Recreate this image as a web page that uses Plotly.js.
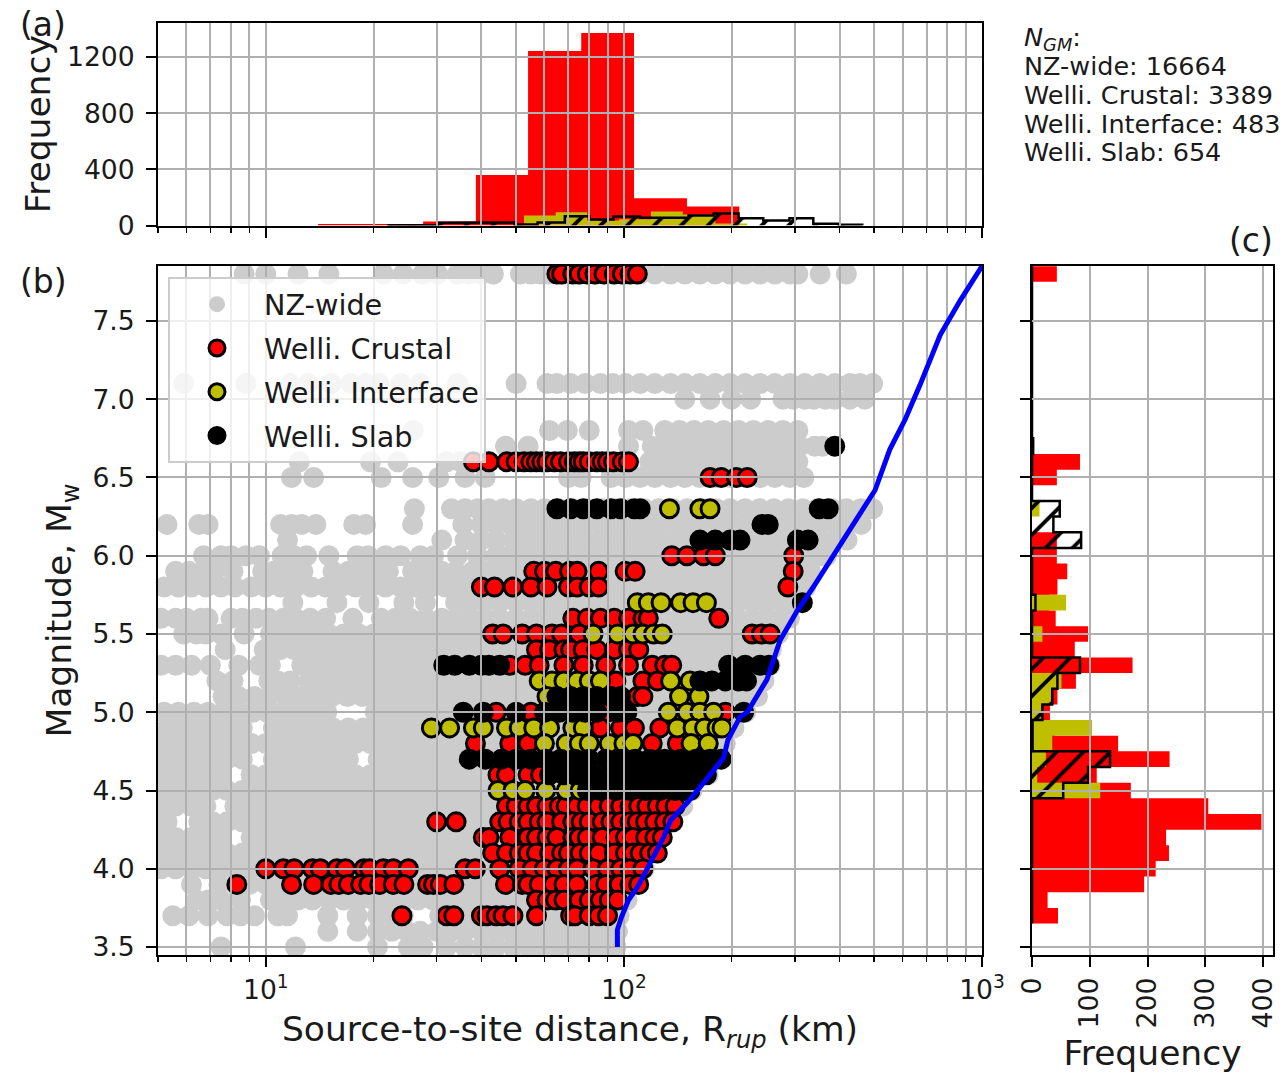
<!DOCTYPE html>
<html><head><meta charset="utf-8">
<script src="https://cdn.plot.ly/plotly-3.0.1.min.js"></script>
<style>html,body{margin:0;padding:0;background:#fff}</style></head>
<body><div id="chart" style="width:1284px;height:1073px"></div>
<script>
// ---- scatter data: magnitude rows and the distances (km) read along each row
const nzMags = [7.8,7.1,7.0,6.8,6.7,6.6,6.5,6.3,6.2,6.1,6.0,5.9,5.8,5.7,5.6,5.5,5.4,5.3,5.2,5.1,5.0,4.9,4.8,4.7,4.6,4.5,4.4,4.3,4.2,4.1,4.0,3.9,3.8,3.7,3.6,3.5];
const nzDist = [
 [8.7,10,12.3,15,21.3,24.2,27.4,30.2,34.3,37,40,43.2,51.4,55,58.5,62,68,75,83,92,101,111,122,135,148,163,180,198,218,240,264,291,306,353,418],
 [5.9,8.8,11.7,13.1,15.2,17.3,19,20.7,23.8,27,34.3,50,61,65,71,78,86,93,101,111,122,135,148,163,180,198,218,240,264,291,320,353,388,428,456,495],
 [148,174,200,226,278,297,320,339,365,388,428,471],
 [25.8,62,69.5,80,103,113,130,143,157,172,190,209,230,253,278,306],
 [46.7,54,103,120,132,145,160,176,193,212,233,256,282,310,341,359],
 [12.4,19.6,23.4,32,35,38,42,118,130,143,157,173,190,209,230,253,278,306],
 [11.8,13.6,21,25.7,30.4,36,41,70,76,92,101,111,122,135,148,163,180,198,218,240,264,291,318],
 [26,33,36,39,42,46,50,55,60,66,72,79,87,95,104,114,125,137,150,165,181,198,218,239,262,288,316,347,381,418,459,495],
 [5.3,6.5,6.9,11,11.8,12.6,13.8,17.6,19,25.7,35.5,40,44,48,53,58,64,70,77,85,93,103,113,124,136,150,165,181,199,219,241,265,291,320,352,387,425,460],
 [11.5,31,36,40,44,49,54,59,65,71,78,86,95,104,114,125,138,151,166,183,201,221,243,267,293,322,354,389,420],
 [6.7,7.5,8,8.8,9.6,11.1,12,13,15,18,19.3,21.6,23.8,27,29.4,34.3,39,44,48,53,58,64,70,77,85,93,103,113,124,136,150,165,181,199,219,241,265,291,320,352,368],
 [5.6,6.1,6.7,7.2,8.1,9.8,10.5,11.6,12.7,15.4,17,18.6,20.5,22,25.7,28.4,31,33.9,37.8,42,46,51,56,62,68,75,82,90,99,109,120,132,145,160,176,193,212,233,256,282,310,332],
 [5.2,5.7,6.2,6.8,7.5,8.2,9.1,10,11,12.1,13.4,14.7,16.2,17.8,19.6,21.6,23.8,26.2,28.8,31.7,34.9,38.5,42.4,46.7,51.4,56.6,62.3,68.6,75.5,83.2,91.6,100.8,111,122,135,148,163,180,198,218,240,264,291,322],
 [11.9,15.8,19.4,24.3,27.9,33.9,37,41,45,50,55,61,67,73,80,88,97,107,117,129,142,156,171,188,207,228,250,275,298],
 [5.1,5.6,6,6.6,6.9,8,8.6,9.4,10.2,11.2,12.1,13.3,14.7,17.5,21,23,25.3,28,31,34,37.5,41,45,50,55,60,66,73,80,88,97,106,117,129,142,156,172,189,208,229,252,277,290],
 [5.9,6.4,6.8,7.5,8.7,10.3,11.3,12.4,13.7,15,16.5,18.2,20,22,24.2,26.6,29,32,35.5,39,43,47,52,57,63,69,76,84,92,101,111,122,135,148,163,180,198,218,240,262,270],
 [7.7,9.9,11,12,13.2,14.6,16,17.6,19.4,21.4,23.6,26,28.6,31.4,34.6,38,42,46,51,56,62,68,75,83,91,100,110,121,133,147,161,177,195,215,236,258],
 [5.1,5.6,6.2,7,8.4,9.6,10.3,12.6,13.9,15.3,16.8,18.5,20.4,22.4,24.7,27.2,30,33,36,40,44,48,53,58,64,71,78,86,94,104,114,126,138,152,167,184,203,223,245,256],
 [7.3,8.1,10.2,10.8,11.7,13.2,14.5,16,17.6,19.4,21.5,24,26.5,29,32,35,39,43,47,52,57,63,69,76,84,92,101,111,122,135,148,163,180,198,218,240,246],
 [7.6,8.4,9.3,10.2,11.4,12.6,13.9,15.3,16.9,18.6,20.5,22.6,24.9,27.4,30.2,33.3,36.7,40.4,44.5,49,53.9,59.4,65.4,72,79.2,87.3,96,105.8,116,128,141,155,171,188,207,228,236],
 [5.2,5.7,6.3,6.9,7.6,8.4,9.2,10.1,11.1,12.2,13.5,14.8,20.2,22,24.5,27,29.5,32.5,36,39.5,43.5,48,53,58,64,70,77,85,94,103,113,125,137,151,166,183,201,219],
 [5.3,5.9,6.5,7.1,7.8,8.6,10.5,11.5,12.7,14,15.4,17,18.7,20.6,22.7,25,27.5,30.2,33.3,36.7,40.4,44.5,49,53.9,59.4,65.4,72,79.2,87.3,96,105.8,116,128,141,155,171,188,203],
 [5.1,5.6,6.2,6.8,7.5,8.2,9.1,10,11,12.1,13.4,14.7,16.2,17.8,19.6,21.6,23.8,26.2,28.8,31.7,34.9,38.5,42.4,46.7,51.4,56.6,62.3,68.6,75.5,83.2,91.6,100.8,111,122,135,148,163,180,192],
 [5.3,5.9,6.5,7.1,7.8,8.6,10.5,11.5,12.7,14,15.4,17,20.6,22.7,25,27.5,30.2,33.3,36.7,40.4,44.5,49,53.9,59.4,65.4,72,79.2,87.3,96,105.8,116,128,141,155,171,186],
 [5.1,5.6,6.2,6.8,7.5,9.1,10,11,12.1,13.4,14.7,16.2,17.8,19.6,21.6,23.8,26.2,28.8,31.7,34.9,38.5,42.4,46.7,51.4,56.6,62.3,68.6,75.5,83.2,91.6,100.8,111,122,135,148,163,172],
 [5.3,5.9,6.5,7.1,7.8,8.6,9.5,10.5,11.5,12.7,14,15.4,17,18.7,20.6,22.7,25,27.5,30.2,33.3,36.7,40.4,44.5,49,53.9,59.4,65.4,72,79.2,87.3,96,105.8,116,128,141,155],
 [5.1,5.6,6.2,6.8,8.2,9.1,10,11,12.1,13.4,14.7,16.2,17.8,19.6,21.6,23.8,26.2,28.8,31.7,34.9,38.5,42.4,46.7,51.4,56.6,62.3,68.6,75.5,83.2,91.6,100.8,111,122,135,146],
 [5.3,6.5,7.1,7.8,8.6,9.5,10.5,11.5,12.7,14,15.4,17,18.7,20.6,22.7,25,27.5,30.2,33.3,36.7,40.4,44.5,49,53.9,59.4,65.4,72,79.2,87.3,96,105.8,116,128,133],
 [5.1,5.6,6.2,6.8,7.5,9.1,10,11,12.1,13.4,14.7,16.2,17.8,19.6,21.6,23.8,26.2,28.8,31.7,34.9,38.5,42.4,46.7,51.4,56.6,62.3,68.6,75.5,83.2,91.6,100.8,111,122,127],
 [5.3,5.9,6.5,7.1,7.8,8.6,9.5,10.5,11.5,12.7,14,15.4,17,18.7,20.6,22.7,25,27.5,30.2,33.3,36.7,40.4,44.5,49,53.9,59.4,65.4,72,79.2,87.3,96,105.8,116,120],
 [5.1,5.6,6.2,6.8,7.5,8.2,9.1,10,11,12.1,13.4,14.7,16.2,17.8,19.6,21.6,23.8,26.2,28.8,31.7,34.9,38.5,42.4,46.7,51.4,56.6,62.3,68.6,75.5,83.2,91.6,100.8,111,114],
 [6.2,7.4,8.2,9,10,11,12,13.2,14.6,16,17.7,19.5,21.4,23.6,26,28.6,31.4,34.6,38,42,46,51,56,62,68,75,83,91,100,108],
 [6.4,6.9,7.5,8.5,10.3,11.3,12.3,13.5,15,16.5,18.2,20,22,24.2,26.6,29.3,32.3,35.5,39,43,47.5,52,57.5,63,69.5,76.5,84,92.5,102],
 [5.5,6.1,6.9,7.8,8.5,9.3,10.8,11.5,14.9,18,20.5,22.6,24.2,30.6,33.9,37,41,45,50,55,60,66,73,80,88,97],
 [14.9,18,20.5,22.5,24.8,27,30,33,36,40,44,48,53,58,64,70,77,85,93,96],
 [7.5,12.1,20.5,25,27.5,32,36,40,44,49,54,59,65,72,79,87,95]
];
const crustalMags = [7.8,6.6,6.5,6.0,5.9,5.8,5.6,5.5,5.4,5.3,5.2,5.1,5.0,4.9,4.8,4.6,4.4,4.3,4.2,4.1,4.0,3.9,3.8,3.7];
const crustalDist = [
 [65,67,72,75,79,83,88,94,99,104,109],
 [38,42,47.1,50,52.6,55,57,59,61,64,66.5,70,72.7,75,77,80,84,87,90,93.5,99,103],
 [174,187,206,221],
 [136,150,167,180,298],
 [56,60,64.5,70.5,74,85,100.8,107.5,297],
 [40,43.5,49,55,61,70,74,80,85,287],
 [72,79,86,94,103,113,117,184],
 [43,46,52,57,63,67,75,228,242,256],
 [57,62,68,71,77,84,94,103,110],
 [48,53,58,68,77,89,103,120,130,136],
 [95,113,124],
 [109,113],
 [44,55,90,192],
 [86,98,107,126],
 [38.5,48,54,120,141],
 [44.5,47,54,58.5],
 [47,50,54,57,61,66,69,74,79,85,91,98,104,110,116,124,131,139],
 [30,34,45,47.5,51,54,58,61,67,72,76,80,87,92,98,104,109,115,122,130,137],
 [40.5,42,48,54,57,61,65,72,75,79,87,95,101,106,115,122,128],
 [43,47,51,54,57,62,67,70,75.5,80,85,94,101,106,111,118,124],
 [10,11.2,12,13.5,14.2,15.8,16.7,18.8,19.5,21.3,22.7,25,36,38.5,45,51,55.5,60,65,70,74,82,90,98,104,113],
 [8.3,11.8,13.6,15.2,16,17,18.4,19.4,20.8,22.7,24.3,28.3,29.4,30.7,33.5,46.7,52,54,58,63.5,68,74,84,89,97,104,110],
 [57,61,64.5,68,75,80,86,91,96],
 [24,32,33.5,40,41.5,44,46,49,57,71,73,80,85,90]
];
const interfaceMags = [6.3,5.7,5.5,5.2,5.1,5.0,4.9,4.8,4.5];
const interfaceDist = [
 [134,163,174],
 [109,117,127,144,156,170],
 [82,96,106,113,121,128],
 [58,63,68,74,80,86,135,153],
 [61,143,162],
 [133,150,163,178],
 [29,32.6,38,40.5,47,51,56,62,72,77,141,156,168,182,188],
 [60,69,75,80,91,100,106,154,172],
 [44.5,49,53,60.5,69,75.5,148]
];
const slabMags = [6.7,6.3,6.2,6.1,5.7,5.3,5.2,5.1,5.0,4.7,4.6,4.5];
const slabDist = [
 [388],
 [65,71,77,84,92,98,107,111,351,372],
 [243,253],
 [163,180,198,211,305,327],
 [315],
 [31.4,33.7,37,40,42,45,196,218,240,254],
 [163,176,192,209,220],
 [65,71,77,84,92,98],
 [35.6,40.5,50,60,66,72,78,84,96,102,216],
 [37,41,45.5,50,55,60.5,66.5,73,80,89,98,107.5,118,130,144,159,174,187],
 [62,68,75,82,91,100,110,121,133,147,161,170],
 [79,86,95,104,115,126,139,153]
];
// ---- distance limit curve
const limitMag = [3.5,3.61,3.69,3.8,3.88,4.01,4.1,4.2,4.31,4.42,4.52,4.65,4.71,4.82,4.97,5.0,5.21,5.46,5.65,5.8,6.04,6.27,6.42,6.68,6.87,7.09,7.41,7.63,7.85];
const limitDist = [95.9,95.9,98.4,103,109,117,122.4,129,135,150,163,182,190,195,211,221,251,273,305,338,394,454,503,553,610,671,764,869,1000];
// ---- panel (a) histograms of distance
const crustalDistEdges = [14,19.6,27.5,38.6,54,76,106.7,150,210];
const crustalDistCount = [10,10,28,360,1243,1371,195,135];
const interfaceDistEdges = [49,52.6,64.5,79,97,119,146,180,221];
const interfaceDistCount = [5,71,95,35,45,100,78,15];
const slabDistEdges = [22,25.7,30.2,35.6,41.9,49.5,57.4,68.4,80,93.5,111,130,151.5,178,209,245,290,338,398,463];
const slabDistCount = [2,3,19,21,21,7,21,66,43,64,55,55,71,85,52,36,52,12,5];
// ---- panel (c) histograms of magnitude: bins 3.7 ... 7.8
const magEdges = [3.65,3.75,3.85,3.95,4.05,4.15,4.25,4.35,4.45,4.55,4.65,4.75,4.85,4.95,5.05,5.15,5.25,5.35,5.45,5.55,5.65,5.75,5.85,5.95,6.05,6.15,6.25,6.35,6.45,6.55,6.65,6.75,6.85,6.95,7.05,7.15,7.25,7.35,7.45,7.55,7.65,7.75,7.85];
const crustalMagCount = [45,27,194,214,237,232,397,305,171,112,238,149,40,31,44,76,174,74,97,41,30,44,61,43,43,0,0,0,43,83,0,0,0,0,0,0,0,0,0,0,0,43];
const interfaceMagCount = [0,0,0,0,0,0,0,0,118,9,24,35,104,17,35,51,0,0,18,0,59,0,0,0,0,0,13,0,0,0,0,0,0,0,0,0,0,0,0,0,0,0];
const slabMagCount = [0,0,0,0,0,0,0,0,54,97,135,1,1,18,35,44,83,0,0,0,6,0,0,0,85,37,48,0,0,0,2,0,0,0,0,0,0,0,0,0,0,0];
// ---- ticks and texts
const majorKm = [10,100,1000];
const majorKmText = ['10<sup>1</sup>','10<sup>2</sup>','10<sup>3</sup>'];
const magTicks = [3.5,4,4.5,5,5.5,6,6.5,7,7.5];
const freqTopTicks = [0,400,800,1200];
const freqRightTicks = [0,100,200,300,400];
const ngmLines = ['<i>N<sub>GM</sub></i>:','NZ-wide: 16664','Welli. Crustal: 3389','Welli. Interface: 483','Welli. Slab: 654'];
const panelLabels = ['(a)','(b)','(c)'];

const FONT = 'DejaVu Sans';
const W = 1284, H = 1073;
const GRID = '#b0b0b0', TXT = '#1a1a1a';
const flatten = (mags, dist) => {
  const x = [], y = [];
  mags.forEach((m, i) => dist[i].forEach(d => { x.push(d); y.push(m); }));
  return {x, y};
};
// outline of a histogram: from edges + counts to a stepped path starting and ending on the baseline
const stepCount = c => { const o = [0]; c.forEach(v => o.push(v, v)); o.push(0); return o; };
const stepEdge = e => { const o = []; e.forEach((v, i) => { o.push(v); if (i > 0 && i < e.length - 1) o.push(v); }); return [e[0]].concat(o, [e[e.length-1]]); };

const hatch = {shape:'/', fgcolor:'black', bgcolor:'rgba(0,0,0,0)', size:19, solidity:0.2};

const nz = flatten(nzMags, nzDist), cr = flatten(crustalMags, crustalDist), inf = flatten(interfaceMags, interfaceDist), sl = flatten(slabMags, slabDist);
const mk = (c, lw) => ({size: lw ? 18 : 21, color: c, line: {color: 'black', width: lw}});
const traces = [
 {type:'scatter', mode:'markers', name:'NZ-wide', x:nz.x, y:nz.y, marker:mk('#cccccc',0), legendgroup:'a', xaxis:'x', yaxis:'y'},
 {type:'scatter', mode:'markers', name:'Welli. Crustal', x:cr.x, y:cr.y, marker:mk('red',3), legendgroup:'b', xaxis:'x', yaxis:'y'},
 {type:'scatter', mode:'markers', name:'Welli. Interface', x:inf.x, y:inf.y, marker:mk('#bfbf00',3), legendgroup:'c', xaxis:'x', yaxis:'y'},
 {type:'scatter', mode:'markers', name:'Welli. Slab', x:sl.x, y:sl.y, marker:mk('black',3), legendgroup:'d', xaxis:'x', yaxis:'y'},

 {type:'scatter', mode:'lines', x:stepEdge(crustalDistEdges), y:stepCount(crustalDistCount), fill:'tozeroy', fillcolor:'red', line:{width:0,color:'red'}, showlegend:false, xaxis:'x2', yaxis:'y2'},
 {type:'scatter', mode:'lines', x:stepEdge(interfaceDistEdges), y:stepCount(interfaceDistCount), fill:'tozeroy', fillcolor:'#bfbf00', line:{width:0,color:'#bfbf00'}, showlegend:false, xaxis:'x2', yaxis:'y2'},
 {type:'scatter', mode:'lines', x:stepEdge(slabDistEdges), y:stepCount(slabDistCount), fill:'tozeroy', fillcolor:'rgba(0,0,0,0)', fillpattern:hatch, line:{width:2.5,color:'black'}, showlegend:false, xaxis:'x2', yaxis:'y2'},

 {type:'scatter', mode:'lines', y:stepEdge(magEdges), x:stepCount(crustalMagCount), fill:'tozerox', fillcolor:'red', line:{width:0,color:'red'}, showlegend:false, xaxis:'x3', yaxis:'y3'},
 {type:'scatter', mode:'lines', y:stepEdge(magEdges), x:stepCount(interfaceMagCount), fill:'tozerox', fillcolor:'#bfbf00', line:{width:0,color:'#bfbf00'}, showlegend:false, xaxis:'x3', yaxis:'y3'},
 {type:'scatter', mode:'lines', y:stepEdge(magEdges), x:stepCount(slabMagCount), fill:'tozerox', fillcolor:'rgba(0,0,0,0)', fillpattern:hatch, line:{width:2.5,color:'black'}, showlegend:false, xaxis:'x3', yaxis:'y3'},

 // grids live on a second, transparent set of subplots so they are drawn over the marks; the limit curve sits above them
 {type:'scatter', mode:'lines', x:limitDist, y:limitMag, line:{color:'blue', width:5}, showlegend:false, xaxis:'x4', yaxis:'y4'},
 {type:'scatter', mode:'none', x:[majorKm[0]], y:[freqTopTicks[0]], showlegend:false, xaxis:'x5', yaxis:'y5'},
 {type:'scatter', mode:'none', x:[freqRightTicks[0]], y:[magTicks[0]], showlegend:false, xaxis:'x6', yaxis:'y6'}
];

const MX = [158/W, 982/W], RX = [1032/W, 1273/W];
const MY = [1-955/H, 1-266/H], TY = [1-225.5/H, 1-23/H];
const XR = [Math.log10(5), 3], YR = [3.449, 7.851], TR = [0,1443], RR = [0,417];
const base = {showline:true, linecolor:'black', linewidth:2, mirror:true, ticks:'outside', ticklen:10, tickwidth:2, tickcolor:'black', showgrid:false, zeroline:false,
  tickfont:{family:FONT, size:26.6, color:TXT}, automargin:false, fixedrange:true};
const logMinor = {ticks:'outside', ticklen:5, tickwidth:1.5, tickcolor:'black', dtick:'D1', showgrid:false};
const gridAxis = {showline:false, ticks:'', showticklabels:false, zeroline:false, showgrid:true, gridcolor:GRID, gridwidth:2, fixedrange:true, automargin:false, tickmode:'array'};
const gridMinor = {ticks:'', dtick:'D1', showgrid:true, gridcolor:GRID, gridwidth:2};
const titleOf = (text, standoff) => ({text, font:{family:FONT,size:34.5,color:TXT}, standoff});

const ann = (text, px, py, size) => ({text, x:px/W, y:1-py/H, xref:'paper', yref:'paper', xanchor:'left', yanchor:'middle', showarrow:false, font:{family:FONT, size, color:TXT}});
const blockY = [38,66,95,124,152];
const annotations = ngmLines.map((t,i) => ann(t, 1022, blockY[i], 25.5));
annotations.push(ann(panelLabels[0], 18, 24, 33), ann(panelLabels[1], 18, 281, 33), ann(panelLabels[2], 1227, 241, 33));

const layout = {
  width:W, height:H, margin:{l:0,r:0,t:0,b:0}, paper_bgcolor:'white', plot_bgcolor:'rgba(0,0,0,0)', showlegend:true, hovermode:false,
  font:{family:FONT, color:TXT},
  xaxis:Object.assign({}, base, {type:'log', domain:MX, range:XR, anchor:'y', tickmode:'array', tickvals:majorKm, ticktext:majorKmText, minor:logMinor,
     title:titleOf('Source-to-site distance, R<sub><i>rup</i></sub> (km)', 13)}),
  yaxis:Object.assign({}, base, {domain:MY, range:YR, anchor:'x', tickvals:magTicks, ticktext:magTicks.map(v=>v.toFixed(1)), ticklabelstandoff:6,
     title:titleOf('Magnitude, M<sub>w</sub>', 10)}),
  xaxis2:Object.assign({}, base, {type:'log', domain:MX, range:XR, anchor:'y2', tickmode:'array', tickvals:majorKm, showticklabels:false, minor:logMinor}),
  yaxis2:Object.assign({}, base, {domain:TY, range:TR, anchor:'x2', tickvals:freqTopTicks, ticklabelstandoff:6,
     title:titleOf('Frequency', 6)}),
  xaxis3:Object.assign({}, base, {domain:RX, range:RR, anchor:'y3', tickvals:freqRightTicks, tickangle:-90,
     title:titleOf('Frequency', 18)}),
  yaxis3:Object.assign({}, base, {domain:MY, range:YR, anchor:'x3', tickvals:magTicks, showticklabels:false}),
  xaxis4:Object.assign({}, gridAxis, {type:'log', domain:MX, range:XR, anchor:'y4', tickvals:majorKm, minor:gridMinor}),
  yaxis4:Object.assign({}, gridAxis, {domain:MY, range:YR, anchor:'x4', tickvals:magTicks}),
  xaxis5:Object.assign({}, gridAxis, {type:'log', domain:MX, range:XR, anchor:'y5', tickvals:majorKm, minor:gridMinor}),
  yaxis5:Object.assign({}, gridAxis, {domain:TY, range:TR, anchor:'x5', tickvals:freqTopTicks}),
  xaxis6:Object.assign({}, gridAxis, {domain:RX, range:RR, anchor:'y6', tickvals:freqRightTicks}),
  yaxis6:Object.assign({}, gridAxis, {domain:MY, range:YR, anchor:'x6', tickvals:magTicks}),
  legend:{x:168/W, y:1-277/H, xanchor:'left', yanchor:'top', bgcolor:'rgba(255,255,255,0.8)', bordercolor:'#cccccc', borderwidth:2,
     font:{family:FONT,size:28.7,color:TXT}, itemwidth:84, tracegroupgap:3.5, traceorder:'grouped'},
  annotations
};
Plotly.newPlot('chart', traces, layout, {staticPlot:true, displayModeBar:false});
</script></body></html>
